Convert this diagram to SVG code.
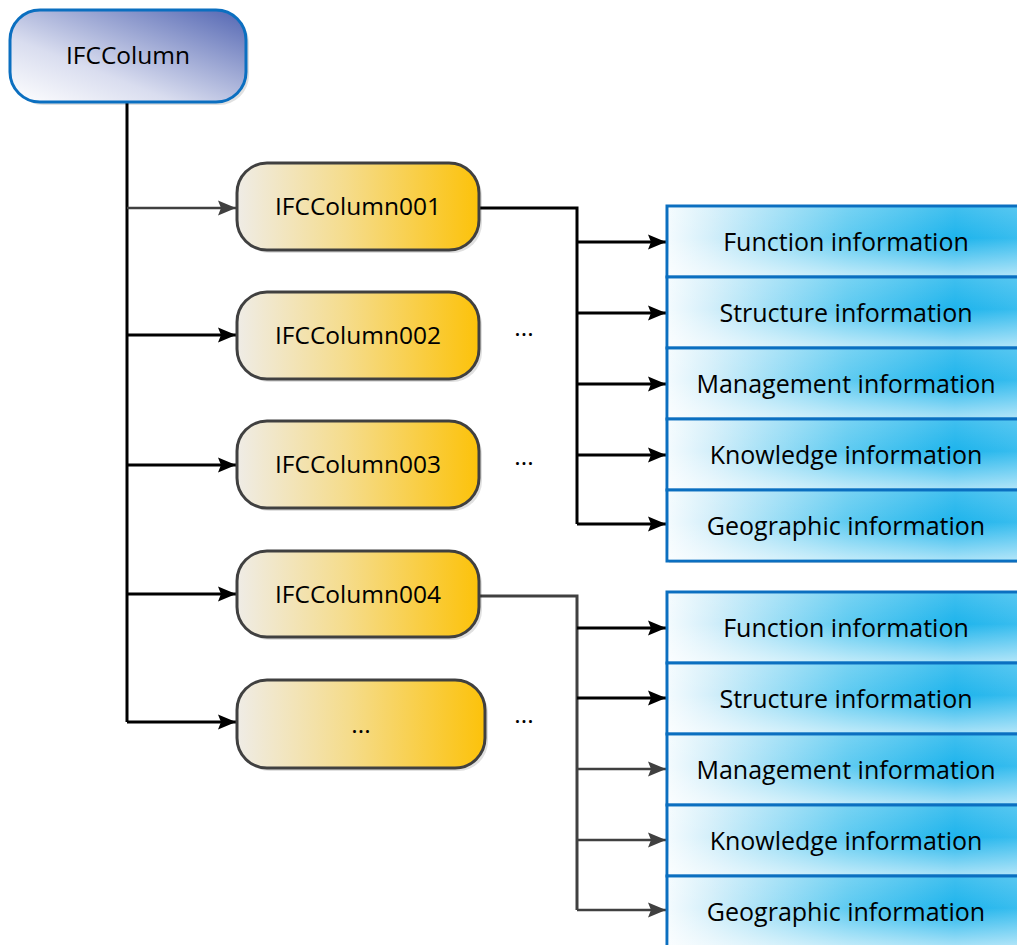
<svg xmlns="http://www.w3.org/2000/svg" width="1017" height="945" viewBox="0 0 1017 945">
<defs>
  <linearGradient id="gRoot" x1="0" y1="1" x2="1" y2="0">
    <stop offset="0" stop-color="#ffffff"/>
    <stop offset="0.35" stop-color="#d9ddef"/>
    <stop offset="1" stop-color="#5265b2"/>
  </linearGradient>
  <linearGradient id="gChild" x1="0" y1="0" x2="1" y2="0">
    <stop offset="0" stop-color="#efece6"/>
    <stop offset="0.45" stop-color="#f5dc8c"/>
    <stop offset="1" stop-color="#fcc20a"/>
  </linearGradient>
  <linearGradient id="gInfo" x1="0" y1="0" x2="1" y2="0">
    <stop offset="0" stop-color="#f4fbfe"/>
    <stop offset="0.12" stop-color="#d4effa"/>
    <stop offset="0.5" stop-color="#5fcbf1"/>
    <stop offset="0.8" stop-color="#1eb4ec"/>
    <stop offset="1" stop-color="#3cbeef"/>
  </linearGradient>
  <linearGradient id="gInfoV" x1="0" y1="0" x2="0" y2="1">
    <stop offset="0" stop-color="#ffffff" stop-opacity="0.15"/>
    <stop offset="0.45" stop-color="#ffffff" stop-opacity="0"/>
    <stop offset="1" stop-color="#ffffff" stop-opacity="0.6"/>
  </linearGradient>
  <marker id="ahB" markerUnits="userSpaceOnUse" markerWidth="19" markerHeight="17" refX="18" refY="8.5" orient="auto">
    <path d="M0,1 L18,8.5 L0,16 L3,8.5 Z" fill="#000000"/>
  </marker>
  <marker id="ahG" markerUnits="userSpaceOnUse" markerWidth="19" markerHeight="17" refX="18" refY="8.5" orient="auto">
    <path d="M0,1 L18,8.5 L0,16 L3,8.5 Z" fill="#404040"/>
  </marker>
</defs>
<style>
  text { font-family: "Open Sans", "Noto Sans", sans-serif; font-size: 25px; fill: #000; text-anchor: middle; }
  .nt { font-size: 24.5px; }
  .root { fill: url(#gRoot); stroke: #0b6fc0; stroke-width: 3; }
  .child { fill: url(#gChild); stroke: #404040; stroke-width: 3; }
  .info { fill: url(#gInfo); stroke: #0b6fc0; stroke-width: 3; }
  .infoV { fill: url(#gInfoV); stroke: none; }
  .shadow { fill: #000; opacity: 0.12; }
  .cb { fill: none; stroke: #000; stroke-width: 3; }
  .cg { fill: none; stroke: #404040; stroke-width: 3; }
  .ab { fill: none; stroke: #000; stroke-width: 3; marker-end: url(#ahB); }
  .ag { fill: none; stroke: #404040; stroke-width: 2.5; marker-end: url(#ahG); }
</style>

<g id="connectors">
  <path class="cb" d="M127,102 V722"/>
  <path class="ag" d="M127,208 H236"/>
  <path class="ab" d="M127,335 H236"/>
  <path class="ab" d="M127,465 H236"/>
  <path class="ab" d="M127,594 H236"/>
  <path class="ab" d="M127,722 H236"/>
  <path class="cb" d="M479,208 H577 V524"/>
  <path class="ab" d="M577,242 H666"/>
  <path class="ab" d="M577,313 H666"/>
  <path class="ab" d="M577,384 H666"/>
  <path class="ab" d="M577,455 H666"/>
  <path class="ab" d="M577,524 H666"/>
  <path class="cg" d="M479,596 H577 V910"/>
  <path class="ab" d="M577,628 H666"/>
  <path class="ab" d="M577,698 H666"/>
  <path class="ag" d="M577,769 H666"/>
  <path class="ag" d="M577,840 H666"/>
  <path class="ag" d="M577,910 H666"/>
</g>

<g id="root">
  <rect class="shadow" x="13" y="13" width="236" height="92" rx="30"/>
  <rect class="root" x="10" y="10" width="236" height="92" rx="30"/>
  <text class="nt" x="128" y="64">IFCColumn</text>
</g>

<g id="col001">
  <rect class="shadow" x="240" y="166" width="242" height="87" rx="30"/>
  <rect class="child" x="237" y="163" width="242" height="87" rx="30"/>
  <text class="nt" x="358" y="215">IFCColumn001</text>
</g>
<g id="col002">
  <rect class="shadow" x="240" y="295" width="242" height="87" rx="30"/>
  <rect class="child" x="237" y="292" width="242" height="87" rx="30"/>
  <text class="nt" x="358" y="344">IFCColumn002</text>
</g>
<g id="col003">
  <rect class="shadow" x="240" y="424" width="242" height="87" rx="30"/>
  <rect class="child" x="237" y="421" width="242" height="87" rx="30"/>
  <text class="nt" x="358" y="473">IFCColumn003</text>
</g>
<g id="col004">
  <rect class="shadow" x="240" y="554" width="242" height="86" rx="30"/>
  <rect class="child" x="237" y="551" width="242" height="86" rx="30"/>
  <text class="nt" x="358" y="603">IFCColumn004</text>
</g>
<g id="colMore">
  <rect class="shadow" x="240" y="683" width="248" height="88" rx="30"/>
  <rect class="child" x="237" y="680" width="248" height="88" rx="30"/>
  <text class="nt" x="361" y="733">...</text>
</g>

<g id="dots">
  <text class="nt" x="524" y="336">...</text>
  <text class="nt" x="524" y="465">...</text>
  <text class="nt" x="524" y="723">...</text>
</g>

<g id="info1">
  <rect class="shadow" x="669" y="209" width="360" height="354"/>
  <g id="info1-function">
    <rect class="info" x="667" y="206" width="360" height="71"/>
    <rect class="infoV" x="668.5" y="207.5" width="358" height="68"/>
    <text x="846" y="251">Function information</text>
  </g>
  <g id="info1-structure">
    <rect class="info" x="667" y="277" width="360" height="71"/>
    <rect class="infoV" x="668.5" y="278.5" width="358" height="68"/>
    <text x="846" y="322">Structure information</text>
  </g>
  <g id="info1-management">
    <rect class="info" x="667" y="348" width="360" height="71"/>
    <rect class="infoV" x="668.5" y="349.5" width="358" height="68"/>
    <text x="846" y="393">Management information</text>
  </g>
  <g id="info1-knowledge">
    <rect class="info" x="667" y="419" width="360" height="71"/>
    <rect class="infoV" x="668.5" y="420.5" width="358" height="68"/>
    <text x="846" y="464">Knowledge information</text>
  </g>
  <g id="info1-geographic">
    <rect class="info" x="667" y="490" width="360" height="71"/>
    <rect class="infoV" x="668.5" y="491.5" width="358" height="68"/>
    <text x="846" y="535">Geographic information</text>
  </g>
</g>

<g id="info2">
  <g id="info2-function">
    <rect class="info" x="667" y="592" width="360" height="71"/>
    <rect class="infoV" x="668.5" y="593.5" width="358" height="68"/>
    <text x="846" y="637">Function information</text>
  </g>
  <g id="info2-structure">
    <rect class="info" x="667" y="663" width="360" height="71"/>
    <rect class="infoV" x="668.5" y="664.5" width="358" height="68"/>
    <text x="846" y="708">Structure information</text>
  </g>
  <g id="info2-management">
    <rect class="info" x="667" y="734" width="360" height="71"/>
    <rect class="infoV" x="668.5" y="735.5" width="358" height="68"/>
    <text x="846" y="779">Management information</text>
  </g>
  <g id="info2-knowledge">
    <rect class="info" x="667" y="805" width="360" height="71"/>
    <rect class="infoV" x="668.5" y="806.5" width="358" height="68"/>
    <text x="846" y="850">Knowledge information</text>
  </g>
  <g id="info2-geographic">
    <rect class="info" x="667" y="876" width="360" height="71"/>
    <rect class="infoV" x="668.5" y="877.5" width="358" height="68"/>
    <text x="846" y="921">Geographic information</text>
  </g>
</g>
</svg>
